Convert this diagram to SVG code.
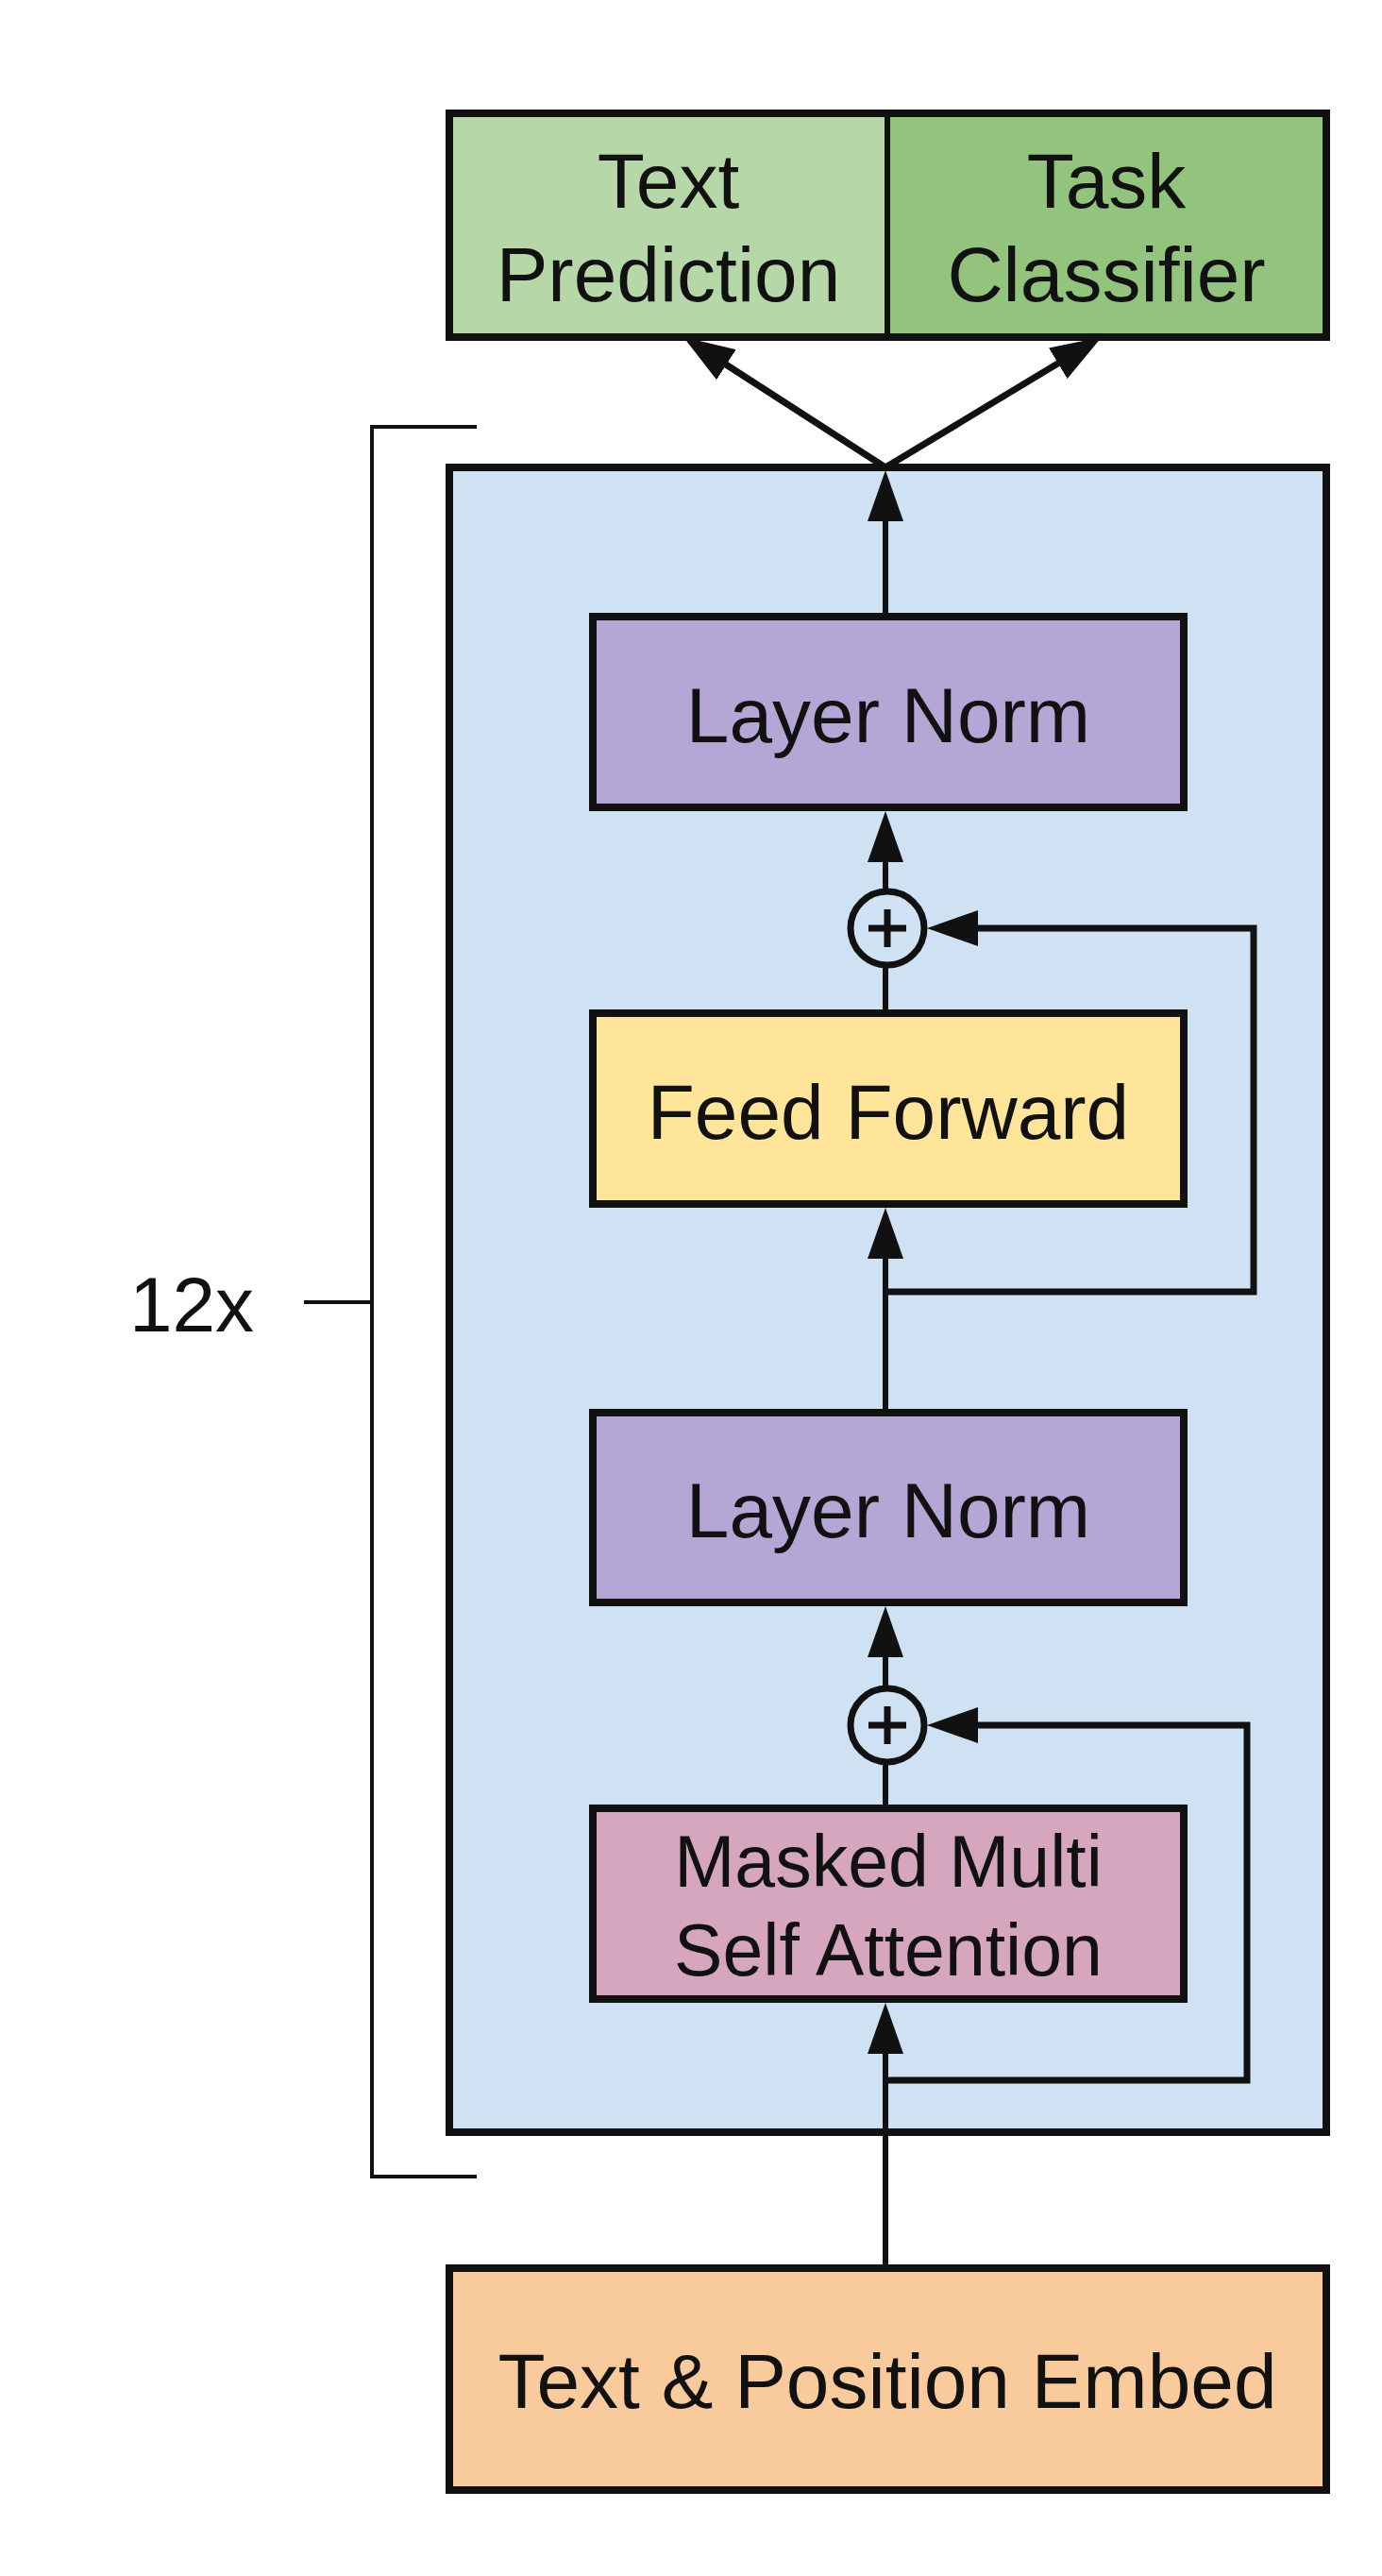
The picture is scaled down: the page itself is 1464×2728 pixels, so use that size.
<svg xmlns="http://www.w3.org/2000/svg" width="1464" height="2728" viewBox="0 0 1464 2728">
<style>
.box{stroke:#111;stroke-width:8}
.lbl{font-family:"Liberation Sans",Arial,sans-serif;font-size:82px;fill:#111;text-anchor:middle}
.ln{fill:none;stroke:#111;stroke-width:6}
.sk{fill:none;stroke:#111;stroke-width:7}
.add{fill:#cfe2f3;stroke:#111;stroke-width:7}
</style>
<defs>
<marker id="ah" viewBox="0 0 54 38" refX="34" refY="19" markerWidth="54" markerHeight="38" markerUnits="userSpaceOnUse" orient="auto">
<path d="M0,0 L54,19 L0,38 z" fill="#111"/>
</marker>
</defs>
<rect width="1464" height="2728" fill="#fff"/>
<g id="block">
<rect x="476" y="495" width="929" height="1763" fill="#cfe2f3" class="box"/>
</g>
<g id="bracket">
<path d="M505,452 H394 V2305 H505" fill="none" stroke="#111" stroke-width="4"/>
<line x1="322" y1="1379" x2="394" y2="1379" stroke="#111" stroke-width="4"/>
<text x="203" y="1410" class="lbl">12x</text>
</g>
<g id="heads">
<rect x="476" y="120" width="464" height="237" fill="#b6d7a8"/>
<rect x="940" y="120" width="465" height="237" fill="#93c47d"/>
<rect x="476" y="120" width="929" height="237" fill="none" class="box"/>
<line x1="940" y1="120" x2="940" y2="357" stroke="#111" stroke-width="6"/>
<text x="708" y="220" class="lbl">Text</text>
<text x="708" y="319" class="lbl">Prediction</text>
<text x="1172" y="220" class="lbl">Task</text>
<text x="1172" y="319" class="lbl">Classifier</text>
</g>
<g id="ln1">
<rect x="628" y="653" width="626" height="202" fill="#b4a7d6" class="box"/>
<text x="941" y="786" class="lbl">Layer Norm</text>
</g>
<g id="add1">
<circle cx="940" cy="983" r="39" class="add"/>
<path d="M920,983 H960 M940,963 V1003" stroke="#111" stroke-width="7"/>
</g>
<g id="ff">
<rect x="628" y="1073" width="626" height="202" fill="#ffe599" class="box"/>
<text x="941" y="1206" class="lbl">Feed Forward</text>
</g>
<g id="ln2">
<rect x="628" y="1496" width="626" height="201" fill="#b4a7d6" class="box"/>
<text x="941" y="1628" class="lbl">Layer Norm</text>
</g>
<g id="add2">
<circle cx="940" cy="1827" r="39" class="add"/>
<path d="M920,1827 H960 M940,1807 V1847" stroke="#111" stroke-width="7"/>
</g>
<g id="mmsa">
<rect x="628" y="1915" width="626" height="202" fill="#d5a6bd" class="box"/>
<text x="941" y="1998" class="lbl" style="font-size:77px">Masked Multi</text>
<text x="941" y="2092" class="lbl" style="font-size:77px">Self Attention</text>
</g>
<g id="embed">
<rect x="476" y="2402" width="929" height="235" fill="#f9cb9c" class="box"/>
<text x="940" y="2550" class="lbl">Text &amp; Position Embed</text>
</g>
<g id="connectors">
<line x1="938" y1="495" x2="740.8" y2="367.8" class="sk" marker-end="url(#ah)"/>
<line x1="938" y1="495" x2="1149.9" y2="367.3" class="sk" marker-end="url(#ah)"/>
<line x1="938" y1="653" x2="938" y2="518" class="ln" marker-end="url(#ah)"/>
<line x1="938" y1="944" x2="938" y2="879" class="ln" marker-end="url(#ah)"/>
<line x1="938" y1="1073" x2="938" y2="1022" class="ln"/>
<path d="M938,1368 H1328 V983 H1002" class="sk" marker-end="url(#ah)"/>
<line x1="938" y1="1496" x2="938" y2="1299" class="ln" marker-end="url(#ah)"/>
<line x1="938" y1="1788" x2="938" y2="1721" class="ln" marker-end="url(#ah)"/>
<line x1="938" y1="1915" x2="938" y2="1866" class="ln"/>
<path d="M938,2203 H1321 V1827 H1002" class="sk" marker-end="url(#ah)"/>
<line x1="938" y1="2402" x2="938" y2="2141" class="ln" marker-end="url(#ah)"/>
</g>
</svg>
